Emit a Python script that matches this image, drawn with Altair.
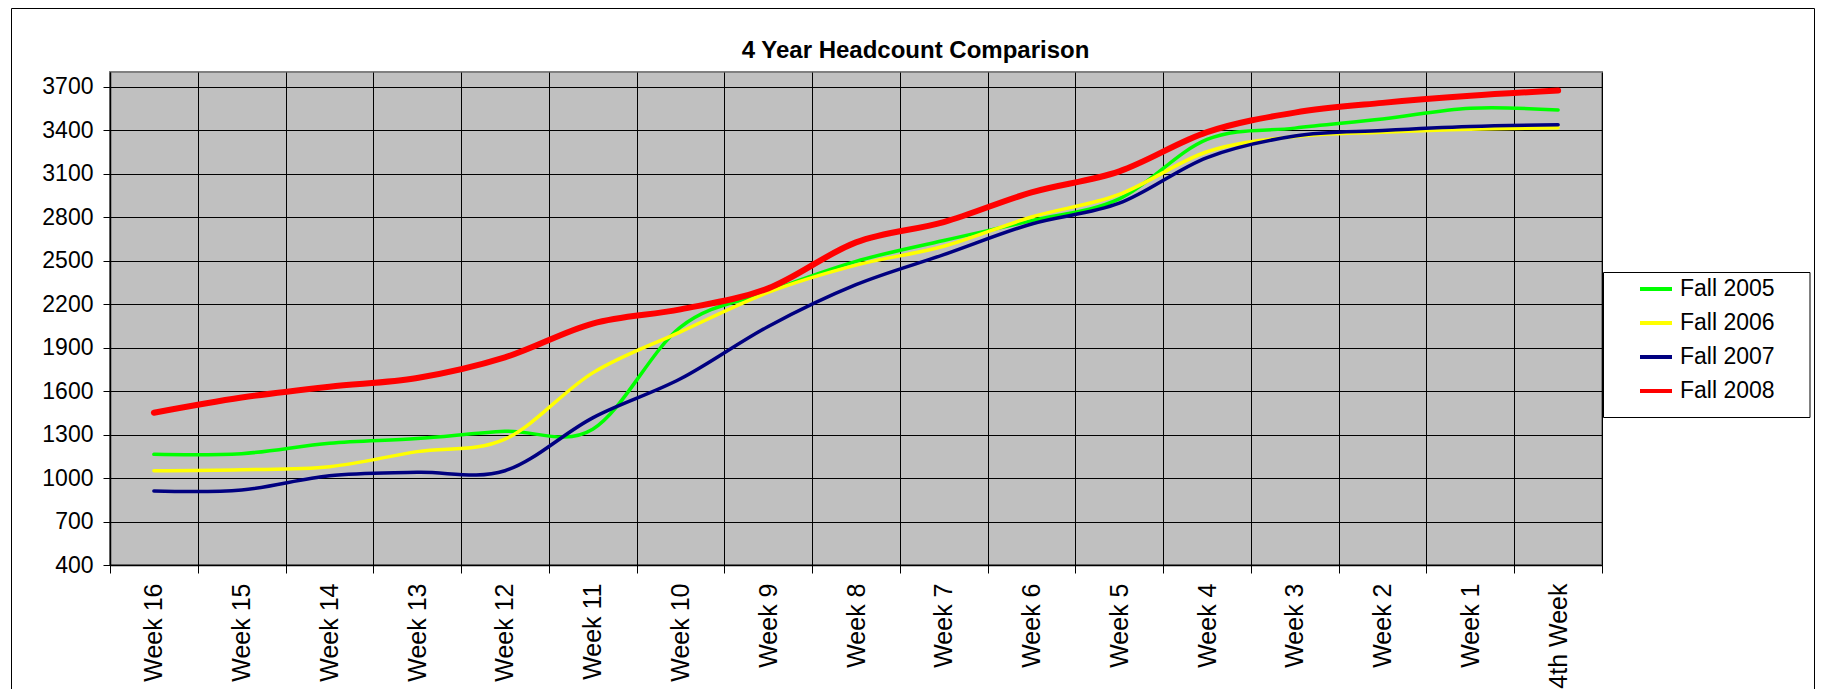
import altair as alt
import pandas as pd

weeks = ["Week 16", "Week 15", "Week 14", "Week 13", "Week 12", "Week 11", "Week 10",
         "Week 9", "Week 8", "Week 7", "Week 6", "Week 5", "Week 4", "Week 3",
         "Week 2", "Week 1", "4th Week"]
series = ["Fall 2005", "Fall 2006", "Fall 2007", "Fall 2008"]
fall_2005 = [1163, 1168, 1240, 1272, 1322, 1337, 2040, 2285, 2494, 2638, 2775, 2925, 3335, 3413, 3476, 3550, 3538]
fall_2006 = [1050, 1057, 1078, 1182, 1268, 1725, 2008, 2280, 2468, 2598, 2800, 2956, 3250, 3355, 3385, 3406, 3415]
fall_2007 = [910, 917, 1015, 1039, 1050, 1415, 1684, 2045, 2333, 2540, 2752, 2895, 3210, 3358, 3396, 3424, 3436]
fall_2008 = [1450, 1555, 1630, 1690, 1832, 2065, 2163, 2308, 2625, 2765, 2970, 3115, 3385, 3520, 3587, 3636, 3672]
colors = ["#00FF00", "#FFFF00", "#000080", "#FF0000"]
y_ticks = [400, 700, 1000, 1300, 1600, 1900, 2200, 2500, 2800, 3100, 3400, 3700]

rows = []
for s, vals in zip(series, [fall_2005, fall_2006, fall_2007, fall_2008]):
    for w, v in zip(weeks, vals):
        rows.append({"Week": w, "Series": s, "Headcount": v})
df = pd.DataFrame(rows)

FONT = "Liberation Sans"

lines = alt.Chart(df).mark_line(interpolate="cardinal", strokeCap="round", strokeJoin="round").encode(
    x=alt.X("Week:N", sort=weeks, bandPosition=0.5,
            scale=alt.Scale(type="band", paddingInner=0, paddingOuter=0),
            axis=alt.Axis(title=None, labelAngle=270, labelAlign="right", labelBaseline="middle",
                          labelFontSize=25, labelPadding=10, tickSize=8, tickBand="extent",
                          grid=True, gridColor="black", gridWidth=1, domainColor="black",
                          domainWidth=1.5, tickColor="black", labelColor="black", labelFont=FONT)),
    y=alt.Y("Headcount:Q", scale=alt.Scale(domain=[400, 3800], nice=False, zero=False),
            axis=alt.Axis(title=None, values=y_ticks, format="d", labelFontSize=23, labelPadding=10,
                          tickSize=7, grid=True, gridColor="black", gridWidth=1, domainColor="black",
                          domainWidth=1.5, tickColor="black", labelColor="black", labelFont=FONT)),
    color=alt.Color("Series:N", scale=alt.Scale(domain=series, range=colors),
                    legend=alt.Legend(title=None, orient="none", legendX=1493, legendY=199,
                                      symbolType="stroke", symbolSize=1024, symbolStrokeWidth=4,
                                      labelFontSize=23, labelFont=FONT, labelColor="black",
                                      rowPadding=4, padding=0, labelOffset=6, symbolOffset=35)),
    strokeWidth=alt.condition("datum.Series === 'Fall 2008'", alt.value(6), alt.value(3.5)),
)

box_df = pd.DataFrame({"k": [0]})
frame = alt.Chart(box_df).mark_rect(fill="white", fillOpacity=0, stroke="black", strokeWidth=1).encode(
    x=alt.value(-98.5), x2=alt.value(1704.5), y=alt.value(-63.5), y2=alt.value(700))
legend_box = alt.Chart(box_df).mark_rect(fill="white", stroke="black", strokeWidth=1).encode(
    x=alt.value(1493.5), x2=alt.value(1700), y=alt.value(200.5), y2=alt.value(345.5))

chart = alt.layer(frame, legend_box, lines).properties(
    width=1492, height=493,
    title=alt.TitleParams("4 Year Headcount Comparison", fontSize=24, font=FONT, fontWeight="bold",
                          color="black", anchor="middle", frame="group", dx=59.5, dy=64, offset=9),
    padding={"left": 102, "top": 64, "right": 214, "bottom": 124},
    autosize=alt.AutoSizeParams(type="none"),
).configure(background="white", font=FONT).configure_view(fill="#C0C0C0", stroke="#808080", strokeWidth=2)

chart.save("out.html", embed_options={"renderer": "svg", "actions": False})
